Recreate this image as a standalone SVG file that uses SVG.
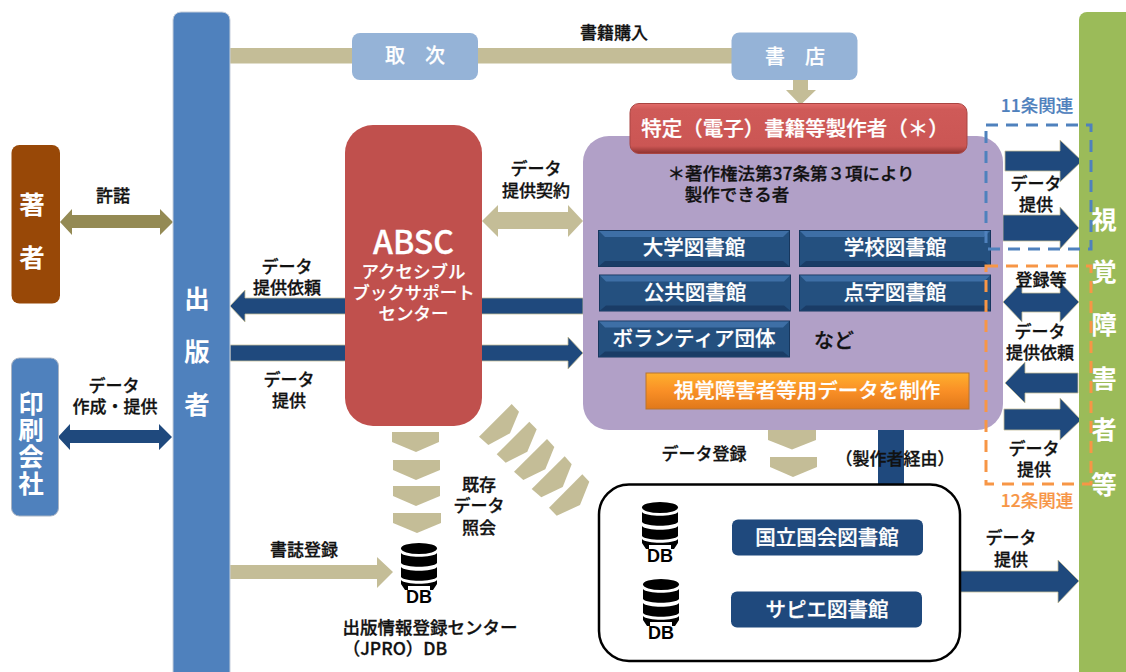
<svg xmlns="http://www.w3.org/2000/svg" width="1126" height="672" viewBox="0 0 1126 672">
<style>
text{font-family:"Noto Sans CJK JP","Noto Sans",sans-serif;text-anchor:middle;dominant-baseline:central;transform:translateY(-1px)}
.l{font-size:17px;font-weight:500;fill:#111;stroke:#111;stroke-width:.3}
.w{fill:#fff;font-weight:500;stroke:#fff;stroke-width:.2}
.b{fill:#fff;font-size:20.500px;font-weight:500;stroke:#fff;stroke-width:.25}
.v{fill:#fff;font-size:25.500px;font-weight:700}
.navy{fill:#1F497D;stroke:#C4BD97;stroke-width:.8}
.tan{fill:#C4BD97}
.dash{fill:none;stroke-width:3;stroke-dasharray:12 8}
</style>
<defs>
<g id="bevel">
<rect width="192" height="37" fill="#17375E"/>
<rect x="1" y="1" width="190" height="35" fill="#24507F"/>
<polygon points="1,1 191,1 185,7 7,7" fill="#3E6FA6"/>
<polygon points="1,36 191,36 185,31 7,31" fill="#1A3C66"/>
</g>
<g id="db">
<ellipse cx="0" cy="5.500" rx="18" ry="5.500" fill="#000"/>
<path d="M-18 10C-14 15 14 15 18 10V20C14 25-14 25-18 20Z" fill="#000"/>
<path d="M-18 24C-14 29 14 29 18 24V34C14 39-14 39-18 34Z" fill="#000"/>
<path d="M-18 37C-14 42 14 42 18 37V41L14 47H11V43H-11V47H-14L-18 41Z" fill="#000"/>
<text x="0" y="54.500" style="font-family:'Liberation Sans',sans-serif;font-size:18px;font-weight:700" fill="#000">DB</text>
</g>
<linearGradient id="red" x1="0" y1="0" x2="0" y2="1"><stop offset="0" stop-color="#E36C6A"/><stop offset=".12" stop-color="#CF5A58"/><stop offset=".85" stop-color="#CB5654"/><stop offset="1" stop-color="#8E3230"/></linearGradient>
<linearGradient id="org" x1="0" y1="0" x2="0" y2="1"><stop offset="0" stop-color="#FFB02E"/><stop offset=".5" stop-color="#F98F26"/><stop offset="1" stop-color="#E0781A"/></linearGradient>
</defs>

<g id="connectors">
<rect x="229" y="48" width="503" height="15.500" class="tan"/>
<polygon class="tan" points="793,80 808,80 808,90 816,90 800.500,105 786,90 793,90"/>
<polygon fill="#948A54" points="60,222 72,209 72,215 160,215 160,209 173,222 160,235 160,228 72,228 72,235"/>
<polygon class="navy" style="stroke:none" points="58,437 70,424 70,430 159,430 159,424 172,437 159,450 159,443 70,443 70,450"/>
<polygon class="navy" points="230,306 245,290 245,298 583,298 583,314 245,314 245,322"/>
<polygon class="navy" points="230,345 568,345 568,337 583,353 568,369 568,361 230,361"/>
<polygon class="tan" points="482,221 498,205 498,212 568,212 568,205 583,221 568,237 568,229 498,229 498,237"/>
<rect x="878" y="428" width="26" height="58" fill="#1F497D"/>
<polygon class="navy" points="1005,151 1060,151 1060,140 1082,161 1060,182 1060,171 1005,171"/>
<polygon class="navy" points="1003,215 1060,215 1060,207 1079,228 1060,249 1060,241 1003,241"/>
<polygon class="navy" points="1003,302 1022,282 1022,293 1060,293 1060,282 1079,302 1060,322 1060,312 1022,312 1022,322"/>
<polygon class="navy" points="1005,383 1025,362 1025,373 1078,373 1078,393 1025,393 1025,403"/>
<polygon class="navy" points="1004,409 1060,409 1060,398 1081,420 1060,440 1060,430 1004,430"/>
<polygon class="navy" points="960,571 1058,571 1058,560 1079,581 1058,603 1058,592 960,592"/>
<polygon class="tan" points="230,565 377,565 377,557 393,572 377,588 377,579 230,579"/>
<polygon class="tan" points="392,432 439,432 439,442 416,452 392,442"/>
<polygon class="tan" points="393,460 440,460 440,470 416,480 393,470"/>
<polygon class="tan" points="393,486 440,486 440,496 416,506 393,496"/>
<polygon class="tan" points="393,513 441,513 441,523 417,533 393,523"/>
<polygon class="tan" points="768,430 816,430 816,440 792,449.500 768,440"/>
<polygon class="tan" points="770,457 817,457 817,467 793,477 770,467"/>
<polygon class="tan" points="511.700,404 519,411.700 510,433.300 488.300,445 479,436.700"/>
<polygon class="tan" points="529.300,421.700 536.700,429.300 527.300,451.700 505.700,462.700 496.700,454.300"/>
<polygon class="tan" points="547,439 554.300,447 545.300,469.300 523.300,480 514,471.700"/>
<polygon class="tan" points="564.700,456.300 571.700,464.300 562.700,487 541.300,497.300 531.700,489"/>
<polygon class="tan" points="582.300,474.300 589.300,481.700 580,505 556.700,515.700 549,507.700"/>
</g>

<g id="publisher"><rect x="173" y="12" width="57" height="672" rx="8" fill="#4F81BD" stroke="#C5CEDB"/>
<text class="v" x="197" y="297">出</text><text class="v" x="197" y="350">版</text><text class="v" x="197" y="403">者</text></g>
<g id="users"><rect x="1079" y="12" width="60" height="672" rx="8" fill="#9BBB59"/>
<text class="v" x="1104" y="218">視</text><text class="v" x="1104" y="270">覚</text><text class="v" x="1104" y="323">障</text><text class="v" x="1104" y="377">害</text><text class="v" x="1104" y="428">者</text><text class="v" x="1104" y="483">等</text></g>
<g id="author"><rect x="11.500" y="145" width="48.500" height="158.500" rx="8" fill="#984807"/>
<text class="v" x="32" y="203">著</text><text class="v" x="32" y="256">者</text></g>
<g id="printer"><rect x="11.500" y="358" width="47" height="158" rx="8" fill="#4F81BD" stroke="#A9B4C4"/>
<text class="v" x="31" y="402">印</text><text class="v" x="31" y="428.500">刷</text><text class="v" x="31" y="455">会</text><text class="v" x="31" y="482">社</text></g>
<g id="toritsugi"><rect x="352" y="33" width="126" height="47" rx="8" fill="#95B3D7"/><text class="w" x="415" y="55" font-size="20" xml:space="preserve">取　次</text></g>
<g id="shoten"><rect x="731.500" y="32.500" width="126" height="47.500" rx="8" fill="#95B3D7"/><text class="w" x="795" y="56" font-size="20" xml:space="preserve">書　店</text></g>
<g id="absc"><rect x="345" y="125" width="137" height="301" rx="28" fill="#C0504D"/>
<text x="413.500" y="241" fill="#fff" font-size="32" font-weight="500" stroke="#fff" stroke-width=".3">ABSC</text>
<text class="w" x="413.500" y="271" font-size="17.500">アクセシブル</text>
<text class="w" x="413.500" y="292" font-size="17.500">ブックサポート</text>
<text class="w" x="413.500" y="313" font-size="17.500">センター</text></g>
<g id="maker"><rect x="583" y="136" width="420" height="294" rx="26" fill="#B1A0C7"/>
<text class="l" x="791" y="173" style="font-size:17.500px">＊著作権法第37条第３項により</text>
<text class="l" x="737" y="194.500" style="font-size:17.500px">製作できる者</text>
<text class="l" x="834" y="340" style="font-size:20px">など</text></g>
<g id="tokutei"><rect x="630" y="103.500" width="337" height="50" rx="9" fill="url(#red)" stroke="#A94542"/><text class="b" x="795" y="128">特定（電子）書籍等製作者（＊）</text></g>
<g id="daigaku"><use href="#bevel" x="598" y="230"/><text class="b" x="694" y="247">大学図書館</text></g>
<g id="gakko"><use href="#bevel" x="799" y="230"/><text class="b" x="895" y="247">学校図書館</text></g>
<g id="kokyo"><use href="#bevel" x="599" y="274.500"/><text class="b" x="695" y="292">公共図書館</text></g>
<g id="tenji"><use href="#bevel" x="799" y="274.500"/><text class="b" x="895" y="292">点字図書館</text></g>
<g id="volunteer"><use href="#bevel" x="598" y="320.500"/><text class="b" x="694" y="338">ボランティア団体</text></g>
<g id="seisaku"><rect x="646" y="373" width="323" height="36" fill="url(#org)" stroke="#B9752E"/><text class="b" x="807" y="390">視覚障害者等用データを制作</text></g>
<g id="article11"><rect x="986" y="125" width="105" height="124" class="dash" stroke="#4F81BD"/><text x="1037" y="105" font-size="17.500" font-weight="500" fill="#4F81BD" stroke="#4F81BD" stroke-width=".2">11条関連</text></g>
<g id="article12"><rect x="986" y="266" width="105" height="218" class="dash" stroke="#F79646"/><text x="1037" y="500" font-size="17.500" font-weight="500" fill="#F79646" stroke="#F79646" stroke-width=".2">12条関連</text></g>
<g id="libraries"><rect x="599" y="484.500" width="361" height="176.500" rx="30" fill="#fff" stroke="#000" stroke-width="2.500"/>
<use href="#db" x="660" y="502"/><use href="#db" x="661" y="579"/></g>
<g id="ndl"><rect x="732" y="519.500" width="191" height="36" rx="6" fill="#1F497D"/><text class="b" x="827" y="536.500">国立国会図書館</text></g>
<g id="sapie"><rect x="731" y="591.500" width="191" height="36" rx="6" fill="#1F497D"/><text class="b" x="827" y="608.500">サピエ図書館</text></g>
<g id="jpro"><use href="#db" x="419" y="543"/>
<text class="l" x="430" y="627" style="font-size:17.500px">出版情報登録センター</text><text class="l" x="395" y="648" style="font-size:17.500px">（JPRO）DB</text></g>

<g id="labels">
<text class="l" x="614" y="32">書籍購入</text>
<text class="l" x="113" y="195">許諾</text>
<text class="l" x="114" y="385">データ</text><text class="l" x="115" y="406">作成・提供</text>
<text class="l" x="287" y="266">データ</text><text class="l" x="287" y="287">提供依頼</text>
<text class="l" x="289" y="379">データ</text><text class="l" x="289" y="400">提供</text>
<text class="l" x="536" y="168">データ</text><text class="l" x="536" y="190">提供契約</text>
<text class="l" x="1036" y="183">データ</text><text class="l" x="1036" y="204">提供</text>
<text class="l" x="1041" y="279">登録等</text>
<text class="l" x="1040" y="331">データ</text><text class="l" x="1040" y="352">提供依頼</text>
<text class="l" x="1034" y="448">データ</text><text class="l" x="1034" y="469">提供</text>
<text class="l" x="479" y="484">既存</text><text class="l" x="479" y="505">データ</text><text class="l" x="479" y="527">照会</text>
<text class="l" x="304" y="549">書誌登録</text>
<text class="l" x="704" y="453">データ登録</text>
<text class="l" x="895" y="458">（製作者経由）</text>
<text class="l" x="1011" y="537">データ</text><text class="l" x="1011" y="559">提供</text>
</g>
</svg>
